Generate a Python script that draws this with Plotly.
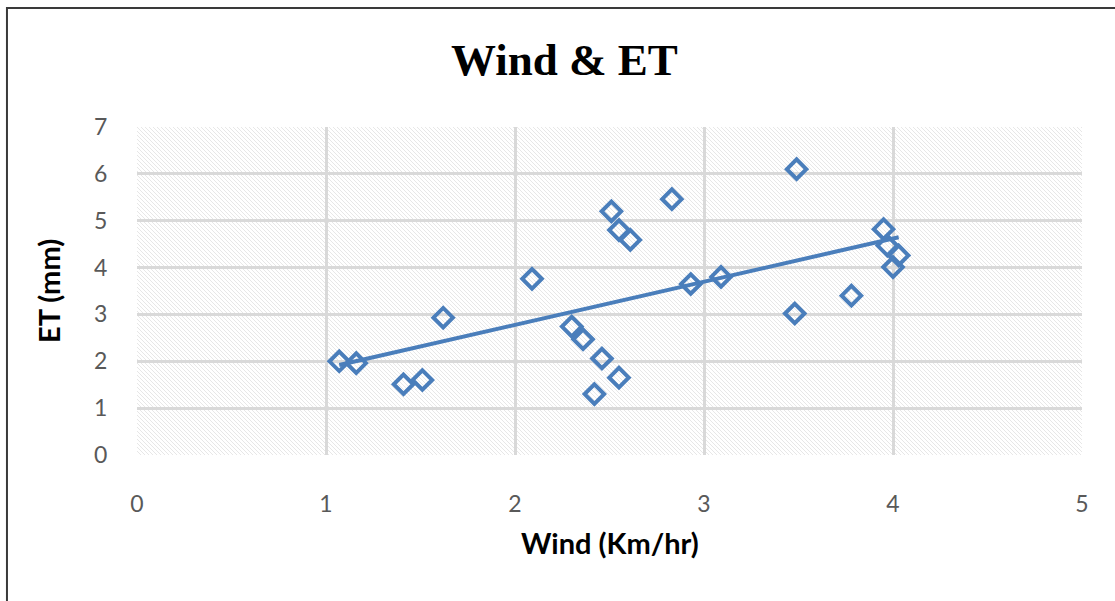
import base64
import numpy as np
import plotly.graph_objects as go

# Wind speed (Km/hr) and evapotranspiration (mm)
wind = [1.07, 1.16, 1.41, 1.51, 1.62, 2.09, 2.30, 2.36, 2.46, 2.42, 2.55, 2.51,
        2.55, 2.61, 2.83, 2.93, 3.09, 3.49, 3.48, 3.78, 3.95, 3.97, 4.03, 4.00]
et = [2.00, 1.96, 1.51, 1.60, 2.93, 3.76, 2.74, 2.47, 2.06, 1.30, 1.65, 5.20,
      4.80, 4.59, 5.46, 3.65, 3.80, 6.10, 3.02, 3.40, 4.82, 4.47, 4.26, 4.01]

x_ticks = [0, 1, 2, 3, 4, 5]
y_ticks = [0, 1, 2, 3, 4, 5, 6, 7]

BLUE = "#4A7EBB"
GRID = "#d9d9d9"
TICK = "#595959"

# Linear trendline fitted to the observations
slope, intercept = np.polyfit(wind, et, 1)
trend_x = [min(wind), max(wind)]
trend_y = [slope * v + intercept for v in trend_x]

# Hatched plot-area fill (downward diagonal pattern)
W, H = 945, 328
svg = f"""<svg xmlns='http://www.w3.org/2000/svg' width='{W}' height='{H}' viewBox='0 0 {W} {H}' preserveAspectRatio='none'>
<defs><pattern id='p' width='4' height='4' patternUnits='userSpaceOnUse'>
<rect width='4' height='4' fill='#ffffff'/>
<path d='M-1,-1 L5,5 M-1,3 L1,5 M3,-1 L5,1' stroke='#e4e4e4' stroke-width='0.9'/>
</pattern></defs>
<rect width='{W}' height='{H}' fill='url(#p)'/></svg>"""
bg_src = "data:image/svg+xml;base64," + base64.b64encode(svg.encode()).decode()

fig = go.Figure()
fig.add_trace(go.Scatter(
    x=wind, y=et, mode="markers",
    marker=dict(symbol="diamond-open", size=15, color=BLUE, line=dict(width=4, color=BLUE)),
    showlegend=False,
))
fig.add_trace(go.Scatter(
    x=trend_x, y=trend_y, mode="lines",
    line=dict(color=BLUE, width=4),
    showlegend=False,
))

axis_common = dict(
    showgrid=True, gridcolor=GRID, gridwidth=2.5,
    zeroline=False, showline=False,
    ticks="outside", tickcolor="rgba(0,0,0,0)",
    tickfont=dict(family="Lato, Carlito, sans-serif", size=23, color=TICK),
)
fig.update_xaxes(range=[0, 5], tickvals=x_ticks, ticklen=28, **axis_common)
fig.update_yaxes(range=[0, 7], tickvals=y_ticks, ticklen=24, **axis_common)

fig.update_layout(
    width=1115, height=601,
    margin=dict(l=137, r=33, t=127, b=146),
    paper_bgcolor="white", plot_bgcolor="white",
    images=[dict(source=bg_src, xref="paper", yref="paper", x=0, y=1,
                 sizex=1, sizey=1, sizing="stretch", layer="below")],
    annotations=[
        dict(text="<b>Wind & ET</b>", xref="paper", yref="paper", x=0.452, y=1.204,
             xanchor="center", yanchor="middle", showarrow=False,
             font=dict(family="Liberation Serif, serif", size=45, color="black")),
        dict(text="<b>Wind (Km/hr)</b>", xref="paper", yref="paper", x=0.5, y=-0.268,
             xanchor="center", yanchor="middle", showarrow=False,
             font=dict(family="Lato, sans-serif", size=29, color="black")),
        dict(text="<b>ET (mm)</b>", xref="paper", yref="paper", x=-0.0942, y=0.5,
             xanchor="center", yanchor="middle", showarrow=False, textangle=-90,
             font=dict(family="Lato, sans-serif", size=29, color="black")),
    ],
    shapes=[dict(type="rect", xref="paper", yref="paper",
                 x0=-0.1376, x1=1.04, y0=-0.46, y1=1.3628,
                 line=dict(color="#3a3a3a", width=2), fillcolor="rgba(0,0,0,0)",
                 layer="above")],
)

fig.write_html("out.html")
